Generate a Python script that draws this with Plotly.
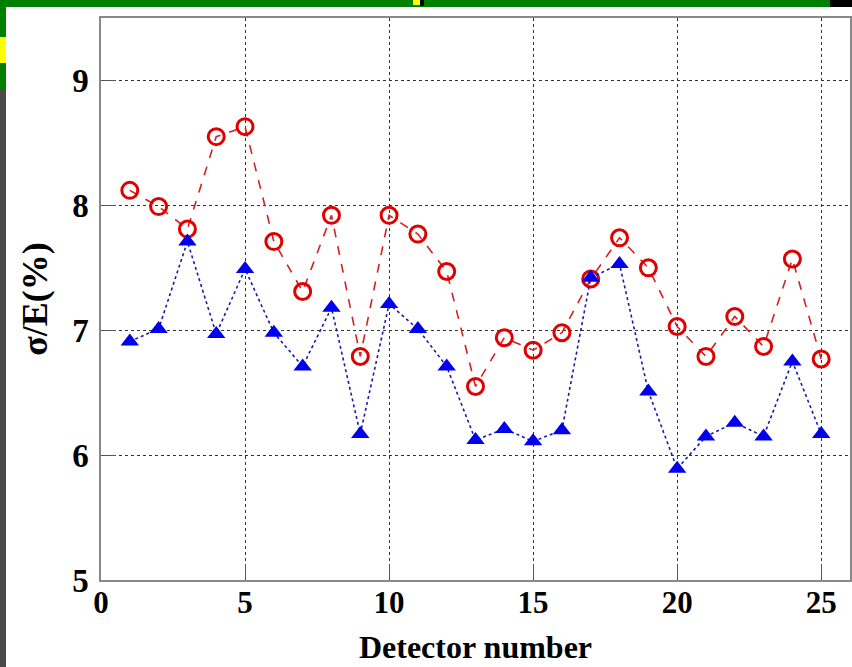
import plotly.graph_objects as go

# ---- data ----
detector = list(range(1, 26))
sigma_red = [8.12, 7.99, 7.81, 8.55, 8.63, 7.71, 7.31, 7.92, 6.79, 7.92,
             7.77, 7.47, 6.55, 6.94, 6.84, 6.98, 7.41, 7.74, 7.50, 7.03,
             6.79, 7.11, 6.87, 7.57, 6.77]
sigma_blue = [6.91, 7.01, 7.71, 6.97, 7.49, 6.98, 6.71, 7.18, 6.17, 7.21,
              7.01, 6.71, 6.12, 6.21, 6.11, 6.20, 7.42, 7.53, 6.51, 5.89,
              6.15, 6.26, 6.15, 6.75, 6.17]
x_ticks = [0, 5, 10, 15, 20, 25]
y_ticks = [5, 6, 7, 8, 9]

W, H = 852, 667
L, R, T, B = 101, 2, 18, 87
pw, ph = W - L - R, H - T - B

def px(x):
    return (x - L) / pw

def py(y):
    return (H - B - y) / ph

fig = go.Figure()
fig.add_trace(go.Scatter(
    x=detector, y=sigma_red, mode="lines+markers",
    line=dict(color="#d42020", width=1.6, dash="dash"),
    marker=dict(symbol="circle-open", size=16, color="#e00000",
                line=dict(width=3, color="#e00000")),
    showlegend=False))
fig.add_trace(go.Scatter(
    x=detector, y=sigma_blue, mode="lines+markers",
    line=dict(color="#1a1aa8", width=1.6, dash="dot"),
    marker=dict(symbol="triangle-up", size=16, color="#0000ee",
                line=dict(width=0)),
    showlegend=False))

font_family = "Liberation Serif, Times New Roman, serif"

shapes = [
    dict(type="rect", xref="paper", yref="paper", x0=px(0), x1=px(830), y0=py(7), y1=py(0),
         fillcolor="#008000", line=dict(width=0), layer="below"),
    dict(type="rect", xref="paper", yref="paper", x0=px(830), x1=px(852), y0=py(7), y1=py(0),
         fillcolor="#000000", line=dict(width=0), layer="below"),
    dict(type="rect", xref="paper", yref="paper", x0=px(0), x1=px(6), y0=py(90), y1=py(0),
         fillcolor="#008000", line=dict(width=0), layer="below"),
    dict(type="rect", xref="paper", yref="paper", x0=px(0), x1=px(6), y0=py(667), y1=py(90),
         fillcolor="#4a4a4a", line=dict(width=0), layer="below"),
    dict(type="rect", xref="paper", yref="paper", x0=px(0), x1=px(6), y0=py(63), y1=py(37),
         fillcolor="#ffff00", line=dict(width=0), layer="below"),
    dict(type="rect", xref="paper", yref="paper", x0=px(413), x1=px(420), y0=py(5), y1=py(0),
         fillcolor="#ffff00", line=dict(width=0), layer="below"),
    dict(type="rect", xref="paper", yref="paper", x0=px(420), x1=px(424), y0=py(6), y1=py(0),
         fillcolor="#000000", line=dict(width=0), layer="below"),
]

fig.update_layout(
    width=W, height=H,
    margin=dict(l=L, r=R, t=T, b=B, autoexpand=False),
    paper_bgcolor="white", plot_bgcolor="white",
    shapes=shapes,
    xaxis=dict(
        range=[0, 26], tickvals=x_ticks, ticktext=[str(v) for v in x_ticks],
        showline=True, linecolor="#888888", linewidth=1.5, mirror=True,
        ticks="inside", ticklen=16, tickcolor="#555555", tickwidth=1,
        showgrid=True, gridcolor="#333333", gridwidth=1, griddash="dot",
        zeroline=False,
        tickfont=dict(family=font_family, size=31, color="black", weight="bold"),
        ticklabelstandoff=-6,
        title=dict(text="Detector number", standoff=17,
                   font=dict(family=font_family, size=32, color="black", weight="bold")),
    ),
    yaxis=dict(
        range=[5, 9.5], tickvals=y_ticks, ticktext=[str(v) for v in y_ticks],
        showline=True, linecolor="#888888", linewidth=1.5, mirror=True,
        ticks="inside", ticklen=15, tickcolor="#555555", tickwidth=1,
        showgrid=True, gridcolor="#333333", gridwidth=1, griddash="dot",
        zeroline=False,
        tickfont=dict(family=font_family, size=33, color="black", weight="bold"),
        ticklabelstandoff=4,
        title=dict(text="σ/E(%)", standoff=14,
                   font=dict(family=font_family, size=36, color="black", weight="bold")),
    ),
)

fig.write_html("out.html", config={"displayModeBar": False},
               post_script="document.body.style.margin='0';document.body.style.overflow='hidden';")
